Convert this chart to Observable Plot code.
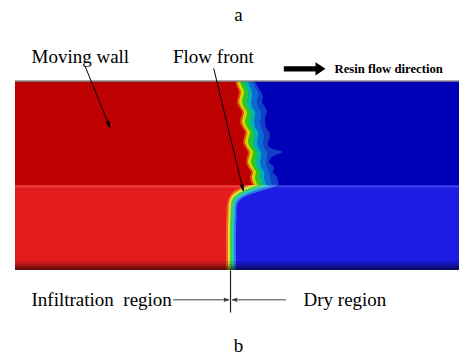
<!DOCTYPE html>
<html><head><meta charset="utf-8">
<script src="https://cdn.jsdelivr.net/npm/d3@7"></script>
<script src="https://cdn.jsdelivr.net/npm/@observablehq/plot@0.6"></script>
<style>body{margin:0;background:#fff}</style>
</head><body><div id="chart"></div>
<script>
// Coordinates in data units: x along the plate (0 = inlet edge), y through the thickness (0 = bottom)
const plateLength = 444;
const layerBounds = {bottom: [0, 85], top: [85, 189]};

// ---- upper layer (preform) flow front: x-extent of each saturation band per y row
const topY      = [189,183,178,173,168,163,158,153,148,143,138,133,128,123,118,113,108,103,98,93,88,85];
const topRed    = [220,222,224,223,222,224,227,226,225,227,230,229,228,230,233,232,231,233,236,235,236,238];
const topOrange = [222,224,226,225,224,226,229,228,227,229,232,231,230,232,235,234,233,235,238,237,238,240];
const topYellow = [225,227,229,228,227,229,232,231,230,232,235,234,233,235,238,237,236,238,241,240,241,243];
const topGreen  = [229,231,233,233,232,233,236,236,235,236,239,239,238,239,242,242,241,242,245,245,246,247];
const topCyan   = [233,235,237,237,236,237,240,240,239,240,243,243,242,243,246,246,245,246,249,249,250,251];
const topAzure  = [238,240,243,243,242,243,246,246,245,246,248,249,248,249,252,252,251,252,254,255,256,257];
const topSky    = [240,243,246,248,247,250,252,250,250,251,254,255,253,254,267,257,254,259,258,262,263,264];

// ---- lower layer (channel) flow front
const botY      = [85,83,80,77,74,70,65,55,40,20,0];
const botRed    = [233,228,221,217,215,213,212,211.5,211,211,211];
const botOrange = [237,232,225,220,217,215,214,213.5,213,213,213];
const botYellow = [242,237,230,224,220,217,216,215.5,215,215,215];
const botGreen  = [248,243,235,228,223,219.5,218,217.5,217,217,217];
const botCyan   = [255,250,241,233,227,222,220,219.5,219,219,219];
const botAzure  = [263,258,249,239,231,225,222,221.5,221,221,221];

// ---- annotations
const titleLabels = [{label: "a", x: 223, y: 250}, {label: "b", x: 223, y: -81.5}];
const serifLabels = [
  {label: "Moving wall", x: 16, y: 208},
  {label: "Flow front", x: 157.5, y: 208},
  {label: "Infiltration\u00a0 region", x: 16, y: -35.5},
  {label: "Dry region", x: 288, y: -35.5}
];
const boldLabels = [{label: "Resin flow direction", x: 319, y: 198}];
const leaders = [
  {x1: 70, y1: 203.3, x2: 94.3, y2: 143.3},
  {x1: 198.3, y1: 201.7, x2: 227.7, y2: 80}
];
const frontMarker = [{x1: 215, y1: 0, x2: 215, y2: -42}];
const regionArrows = [
  {x1: 158, y1: -29.3, x2: 213, y2: -29.3},
  {x1: 270, y1: -29.3, x2: 217, y2: -29.3}
];
const flowArrowX = [268.3, 300, 300, 310, 300, 300, 268.3];
const flowArrowY = [204.3, 204.3, 208.3, 201.7, 195, 199, 199];

// styling
const serif = "'Liberation Serif', 'Times New Roman', Times, serif";
const topColors = {bg: "#0000b9", red: "#bd0000", orange: "#e84a00", yellow: "#d2d600", green: "#2ec42a", cyan: "#00b4b0", azure: "#0a6ad2", sky: "#1040c6"};
const botColors = {bg: "#1c1ce4", red: "#e41c1c", orange: "#f06a1c", yellow: "#e2e23a", green: "#44d044", cyan: "#30c4c4", azure: "#2a7ee6"};
const shadeBands = [{y2: 9, o: 0.12}, {y2: 6, o: 0.16}, {y2: 4, o: 0.2}, {y2: 2, o: 0.25}];

const rows = (ys, xs) => ys.map((y, i) => ({y, x: xs[i]}));
const band = (ys, xs, fill) => Plot.areaX(rows(ys, xs), {y: "y", x1: 0, x2: "x", fill, curve: "catmull-rom"});

const layers = [
  {y1: layerBounds.top[0], y2: layerBounds.top[1], fill: topColors.bg},
  {y1: layerBounds.bottom[0], y2: layerBounds.bottom[1], fill: botColors.bg}
];

const chart = Plot.plot({
  width: 459, height: 356,
  marginTop: 81, marginBottom: 86, marginLeft: 15, marginRight: 0,
  x: {domain: [0, plateLength], axis: null},
  y: {domain: [0, 189], axis: null},
  style: {background: "white", overflow: "visible", fontFamily: serif},
  marks: [
    Plot.rect(layers, {x1: 0, x2: plateLength, y1: "y1", y2: "y2", fill: "fill"}),
    band(topY, topSky, topColors.sky),
    band(topY, topAzure, topColors.azure),
    band(topY, topCyan, topColors.cyan),
    band(topY, topGreen, topColors.green),
    band(topY, topYellow, topColors.yellow),
    band(topY, topOrange, topColors.orange),
    band(topY, topRed, topColors.red),
    band(botY, botAzure, botColors.azure),
    band(botY, botCyan, botColors.cyan),
    band(botY, botGreen, botColors.green),
    band(botY, botYellow, botColors.yellow),
    band(botY, botOrange, botColors.orange),
    band(botY, botRed, botColors.red),
    Plot.rect(shadeBands, {x1: 0, x2: plateLength, y1: 0, y2: "y2", fill: "black", fillOpacity: "o"}),
    Plot.ruleY([84], {stroke: "white", strokeOpacity: 0.15, strokeWidth: 2}),
    Plot.ruleY([188.4], {stroke: "black", strokeOpacity: 0.12, strokeWidth: 1.5}),
    Plot.ruleY([189.5], {stroke: "#8c8c8c", strokeWidth: 1.5}),
    // annotations
    Plot.line(flowArrowX.map((x, i) => ({x, y: flowArrowY[i]})), {x: "x", y: "y", fill: "black", stroke: "none"}),
    Plot.arrow(leaders, {x1: "x1", y1: "y1", x2: "x2", y2: "y2", stroke: "black", fill: "black", strokeWidth: 1, headLength: 9, headAngle: 28}),
    Plot.link(frontMarker, {x1: "x1", y1: "y1", x2: "x2", y2: "y2", stroke: "#222", strokeWidth: 1.2}),
    Plot.arrow(regionArrows, {x1: "x1", y1: "y1", x2: "x2", y2: "y2", stroke: "#444", fill: "#222", strokeWidth: 1, headLength: 7, headAngle: 40}),
    Plot.text(titleLabels, {x: "x", y: "y", text: "label", textAnchor: "middle", lineAnchor: "bottom", fontFamily: serif, fontSize: 19, fill: "black"}),
    Plot.text(serifLabels, {x: "x", y: "y", text: "label", textAnchor: "start", lineAnchor: "bottom", fontFamily: serif, fontSize: 19, fill: "black"}),
    Plot.text(boldLabels, {x: "x", y: "y", text: "label", textAnchor: "start", lineAnchor: "bottom", fontFamily: serif, fontSize: 12.7, fontWeight: "bold", fill: "black"})
  ]
});
document.getElementById("chart").appendChild(chart);
</script>
</body></html>
